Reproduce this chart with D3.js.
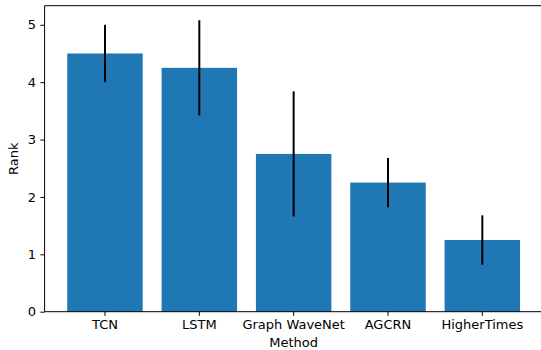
<!DOCTYPE html>
<html><head><meta charset="utf-8">
<script src="https://cdn.jsdelivr.net/npm/d3@7"></script>
<style>body{margin:0;background:#fff}svg{display:block}text{font-family:"DejaVu Sans",sans-serif;fill:#000}</style>
</head><body>
<script>
const methods = ["TCN", "LSTM", "Graph WaveNet", "AGCRN", "HigherTimes"];
const ranks = [4.5, 4.25, 2.75, 2.25, 1.25];
const errors = [0.5, 0.83, 1.09, 0.43, 0.43];
const yTicks = [0, 1, 2, 3, 4, 5];

const W = 541, H = 350;
const mLeft = 44.6, mRight = 542.7, mTop = 5.7, mBottom = 311.7;
const svg = d3.select("body").append("svg").attr("width", W).attr("height", H);

const xLin = d3.scaleLinear().domain([-0.64, methods.length - 1 + 0.64]).range([mLeft, mRight]);
const x = d3.scaleBand().domain(methods).range([xLin(-0.5), xLin(methods.length - 0.5)]).paddingInner(0.2).paddingOuter(0.1);
const y = d3.scaleLinear().domain([0, 5.333]).range([mBottom, mTop]);

svg.append("g").selectAll("rect").data(methods).join("rect")
  .attr("x", d => x(d)).attr("width", x.bandwidth())
  .attr("y", (d, i) => y(ranks[i])).attr("height", (d, i) => y(0) - y(ranks[i]))
  .attr("fill", "#1f77b4");

svg.append("g").selectAll("line").data(methods).join("line")
  .attr("x1", d => x(d) + x.bandwidth() / 2).attr("x2", d => x(d) + x.bandwidth() / 2)
  .attr("y1", (d, i) => y(ranks[i] - errors[i])).attr("y2", (d, i) => y(ranks[i] + errors[i]))
  .attr("stroke", "#000").attr("stroke-width", 2);

const xAxis = svg.append("g").attr("transform", `translate(0,${mBottom})`)
  .call(d3.axisBottom(x).tickSize(4.2).tickPadding(3.5));
const yAxis = svg.append("g").attr("transform", `translate(${mLeft},0)`)
  .call(d3.axisLeft(y).tickValues(yTicks).tickFormat(d3.format("d")).tickSize(4.2).tickPadding(4.5));
[xAxis, yAxis].forEach(g => {
  g.select(".domain").remove();
  g.selectAll(".tick line").attr("stroke", "#000").attr("stroke-width", 1);
  g.selectAll(".tick text").style("font-size", "13px").attr("fill", "#000");
});

// spines
svg.append("line").attr("x1", mLeft).attr("x2", W).attr("y1", mTop).attr("y2", mTop).attr("stroke", "#000").attr("stroke-width", 1);
svg.append("line").attr("x1", mLeft).attr("x2", W).attr("y1", mBottom).attr("y2", mBottom).attr("stroke", "#000").attr("stroke-width", 1);
svg.append("line").attr("x1", mLeft).attr("x2", mLeft).attr("y1", mTop).attr("y2", mBottom).attr("stroke", "#000").attr("stroke-width", 1);

svg.append("text").attr("x", (mLeft + mRight) / 2).attr("y", 347).attr("text-anchor", "middle").style("font-size", "13px").text("Method");
svg.append("text").attr("transform", `translate(18,${(mTop + mBottom) / 2}) rotate(-90)`).attr("text-anchor", "middle").style("font-size", "13px").text("Rank");
</script>
</body></html>
